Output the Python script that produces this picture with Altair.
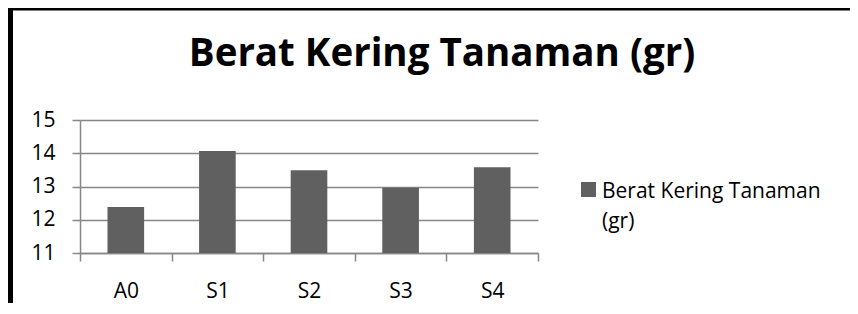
import altair as alt
import pandas as pd

categories = ["A0", "S1", "S2", "S3", "S4"]
values = [12.38, 14.07, 13.49, 12.96, 13.58]
series_name = "Berat Kering Tanaman (gr)"
legend_lines = "Berat Kering Tanaman\n(gr)"
y_ticks = [11, 12, 13, 14, 15]

df = pd.DataFrame({"kategori": categories, "nilai": values})
legend_df = pd.DataFrame({"label": [legend_lines]})

FONT = "Open Sans"
GRID = "#878787"
BAR = "#606060"

bars = alt.Chart(df).mark_bar(width=alt.RelativeBandSize(0.4), color=BAR, clip=True).encode(
    x=alt.X("kategori:N", sort=categories,
            scale=alt.Scale(paddingInner=0, paddingOuter=0),
            axis=alt.Axis(title=None, labelAngle=0, tickBand="extent", domainColor=GRID,
                          domainWidth=1.5, tickColor=GRID, tickWidth=1.5, tickSize=8,
                          labelFont=FONT, labelFontSize=21, labelColor="black",
                          labelPadding=19, grid=False)),
    y=alt.Y("nilai:Q", scale=alt.Scale(domain=[11, 15], nice=False, zero=False),
            axis=alt.Axis(title=None, values=y_ticks, grid=True, gridColor=GRID, gridWidth=1.5,
                          domainColor=GRID, domainWidth=1.5, tickColor=GRID, tickWidth=1.5,
                          tickSize=8, labelFont=FONT, labelFontSize=21, labelColor="black",
                          labelPadding=17)),
)

legend_symbol = alt.Chart(legend_df).mark_square(size=225, color=BAR, opacity=1).encode(
    x=alt.value(508.5), y=alt.value(69.5))
legend_text = alt.Chart(legend_df).mark_text(
    align="left", baseline="alphabetic", font=FONT, fontSize=21, color="black",
    lineBreak="\n", lineHeight=30).encode(
    text="label:N", x=alt.value(522), y=alt.value(78))

border_left = alt.Chart(legend_df).mark_rule(color="black", strokeWidth=5).encode(
    x=alt.value(-69.5), y=alt.value(-113), y2=alt.value(300))
border_top = alt.Chart(legend_df).mark_rule(color="black", strokeWidth=4).encode(
    x=alt.value(-72), x2=alt.value(800), y=alt.value(-111.5))

chart = alt.layer(bars, legend_symbol, legend_text, border_left, border_top).properties(
    width=458, height=133,
    autosize=alt.AutoSizeParams(type="none"),
    padding={"left": 72, "top": 112, "right": 312, "bottom": 50},
    title=alt.TitleParams(series_name, font=FONT, fontSize=38.5, fontWeight="bold",
                          color="black", anchor="middle", frame="group", dx=133,
                          baseline="alphabetic", offset=-100),
).configure_view(stroke=None)

chart.save("out.html", embed_options={"renderer": "svg", "actions": False})
